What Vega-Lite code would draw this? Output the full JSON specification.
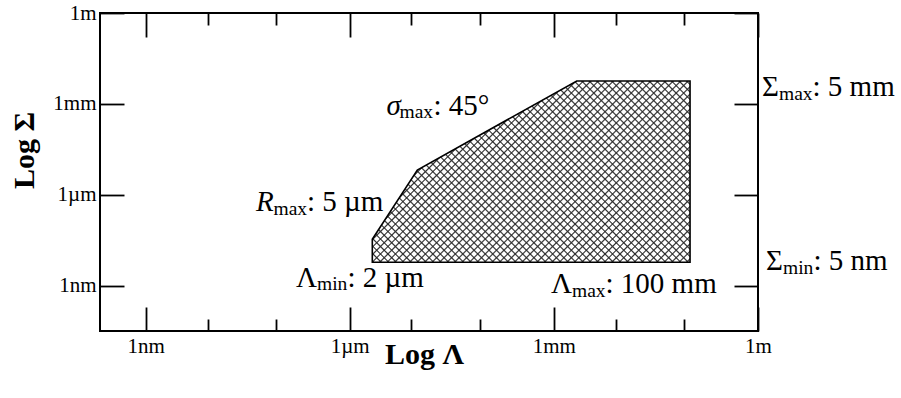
{
"$schema": "https://vega.github.io/schema/vega-lite/v6.json",
"width": 658, "height": 318,
"autosize": {"type": "none"},
"padding": {"left": 100, "top": 13, "right": 143, "bottom": 67},
"background": "white",
"config": {
 "view": {"stroke": "black", "strokeWidth": 2},
 "font": "Liberation Serif",
 "axis": {"domain": false, "grid": false, "tickColor": "black", "tickWidth": 1.8, "labelFont": "Liberation Serif", "labelFontSize": 21, "labelColor": "black", "labelFlush": false, "labelOverlap": false, "titleFont": "Liberation Serif", "titleFontSize": 30, "titleFontWeight": "bold", "titleColor": "black"}
},
"params": [{"name": "hs", "value": [
{"offset":0,"color":"#0000"},{"offset":0.003,"color":"#333"},{"offset":0.006,"color":"#0000"},
{"offset":0.015,"color":"#0000"},{"offset":0.018,"color":"#333"},{"offset":0.021,"color":"#0000"},
{"offset":0.03,"color":"#0000"},{"offset":0.033,"color":"#333"},{"offset":0.036,"color":"#0000"},
{"offset":0.045,"color":"#0000"},{"offset":0.048,"color":"#333"},{"offset":0.051,"color":"#0000"},
{"offset":0.06,"color":"#0000"},{"offset":0.063,"color":"#333"},{"offset":0.066,"color":"#0000"},
{"offset":0.075,"color":"#0000"},{"offset":0.078,"color":"#333"},{"offset":0.081,"color":"#0000"},
{"offset":0.09,"color":"#0000"},{"offset":0.093,"color":"#333"},{"offset":0.096,"color":"#0000"},
{"offset":0.105,"color":"#0000"},{"offset":0.108,"color":"#333"},{"offset":0.111,"color":"#0000"},
{"offset":0.12,"color":"#0000"},{"offset":0.123,"color":"#333"},{"offset":0.126,"color":"#0000"},
{"offset":0.135,"color":"#0000"},{"offset":0.138,"color":"#333"},{"offset":0.141,"color":"#0000"},
{"offset":0.15,"color":"#0000"},{"offset":0.153,"color":"#333"},{"offset":0.156,"color":"#0000"},
{"offset":0.165,"color":"#0000"},{"offset":0.168,"color":"#333"},{"offset":0.171,"color":"#0000"},
{"offset":0.18,"color":"#0000"},{"offset":0.183,"color":"#333"},{"offset":0.186,"color":"#0000"},
{"offset":0.195,"color":"#0000"},{"offset":0.198,"color":"#333"},{"offset":0.201,"color":"#0000"},
{"offset":0.21,"color":"#0000"},{"offset":0.213,"color":"#333"},{"offset":0.216,"color":"#0000"},
{"offset":0.225,"color":"#0000"},{"offset":0.228,"color":"#333"},{"offset":0.231,"color":"#0000"},
{"offset":0.24,"color":"#0000"},{"offset":0.243,"color":"#333"},{"offset":0.246,"color":"#0000"},
{"offset":0.255,"color":"#0000"},{"offset":0.258,"color":"#333"},{"offset":0.261,"color":"#0000"},
{"offset":0.27,"color":"#0000"},{"offset":0.273,"color":"#333"},{"offset":0.276,"color":"#0000"},
{"offset":0.285,"color":"#0000"},{"offset":0.288,"color":"#333"},{"offset":0.291,"color":"#0000"},
{"offset":0.3,"color":"#0000"},{"offset":0.303,"color":"#333"},{"offset":0.306,"color":"#0000"},
{"offset":0.315,"color":"#0000"},{"offset":0.318,"color":"#333"},{"offset":0.321,"color":"#0000"},
{"offset":0.33,"color":"#0000"},{"offset":0.333,"color":"#333"},{"offset":0.336,"color":"#0000"},
{"offset":0.345,"color":"#0000"},{"offset":0.348,"color":"#333"},{"offset":0.351,"color":"#0000"},
{"offset":0.36,"color":"#0000"},{"offset":0.363,"color":"#333"},{"offset":0.366,"color":"#0000"},
{"offset":0.375,"color":"#0000"},{"offset":0.378,"color":"#333"},{"offset":0.381,"color":"#0000"},
{"offset":0.39,"color":"#0000"},{"offset":0.393,"color":"#333"},{"offset":0.396,"color":"#0000"},
{"offset":0.405,"color":"#0000"},{"offset":0.408,"color":"#333"},{"offset":0.411,"color":"#0000"},
{"offset":0.42,"color":"#0000"},{"offset":0.423,"color":"#333"},{"offset":0.426,"color":"#0000"},
{"offset":0.435,"color":"#0000"},{"offset":0.438,"color":"#333"},{"offset":0.441,"color":"#0000"},
{"offset":0.45,"color":"#0000"},{"offset":0.453,"color":"#333"},{"offset":0.456,"color":"#0000"},
{"offset":0.465,"color":"#0000"},{"offset":0.468,"color":"#333"},{"offset":0.471,"color":"#0000"},
{"offset":0.48,"color":"#0000"},{"offset":0.483,"color":"#333"},{"offset":0.486,"color":"#0000"},
{"offset":0.495,"color":"#0000"},{"offset":0.498,"color":"#333"},{"offset":0.501,"color":"#0000"},
{"offset":0.51,"color":"#0000"},{"offset":0.513,"color":"#333"},{"offset":0.516,"color":"#0000"},
{"offset":0.525,"color":"#0000"},{"offset":0.528,"color":"#333"},{"offset":0.531,"color":"#0000"},
{"offset":0.54,"color":"#0000"},{"offset":0.543,"color":"#333"},{"offset":0.546,"color":"#0000"},
{"offset":0.555,"color":"#0000"},{"offset":0.558,"color":"#333"},{"offset":0.561,"color":"#0000"},
{"offset":0.57,"color":"#0000"},{"offset":0.573,"color":"#333"},{"offset":0.576,"color":"#0000"},
{"offset":0.585,"color":"#0000"},{"offset":0.588,"color":"#333"},{"offset":0.591,"color":"#0000"},
{"offset":0.6,"color":"#0000"},{"offset":0.603,"color":"#333"},{"offset":0.606,"color":"#0000"},
{"offset":0.615,"color":"#0000"},{"offset":0.618,"color":"#333"},{"offset":0.621,"color":"#0000"},
{"offset":0.63,"color":"#0000"},{"offset":0.633,"color":"#333"},{"offset":0.636,"color":"#0000"},
{"offset":0.645,"color":"#0000"},{"offset":0.648,"color":"#333"},{"offset":0.651,"color":"#0000"},
{"offset":0.66,"color":"#0000"},{"offset":0.663,"color":"#333"},{"offset":0.666,"color":"#0000"},
{"offset":0.675,"color":"#0000"},{"offset":0.678,"color":"#333"},{"offset":0.681,"color":"#0000"},
{"offset":0.69,"color":"#0000"},{"offset":0.693,"color":"#333"},{"offset":0.696,"color":"#0000"},
{"offset":0.705,"color":"#0000"},{"offset":0.708,"color":"#333"},{"offset":0.711,"color":"#0000"},
{"offset":0.72,"color":"#0000"},{"offset":0.723,"color":"#333"},{"offset":0.726,"color":"#0000"},
{"offset":0.735,"color":"#0000"},{"offset":0.738,"color":"#333"},{"offset":0.741,"color":"#0000"},
{"offset":0.75,"color":"#0000"},{"offset":0.753,"color":"#333"},{"offset":0.756,"color":"#0000"},
{"offset":0.765,"color":"#0000"},{"offset":0.768,"color":"#333"},{"offset":0.771,"color":"#0000"},
{"offset":0.78,"color":"#0000"},{"offset":0.783,"color":"#333"},{"offset":0.786,"color":"#0000"},
{"offset":0.795,"color":"#0000"},{"offset":0.798,"color":"#333"},{"offset":0.801,"color":"#0000"},
{"offset":0.81,"color":"#0000"},{"offset":0.813,"color":"#333"},{"offset":0.816,"color":"#0000"},
{"offset":0.825,"color":"#0000"},{"offset":0.828,"color":"#333"},{"offset":0.831,"color":"#0000"},
{"offset":0.84,"color":"#0000"},{"offset":0.843,"color":"#333"},{"offset":0.846,"color":"#0000"},
{"offset":0.855,"color":"#0000"},{"offset":0.858,"color":"#333"},{"offset":0.861,"color":"#0000"},
{"offset":0.87,"color":"#0000"},{"offset":0.873,"color":"#333"},{"offset":0.876,"color":"#0000"},
{"offset":0.885,"color":"#0000"},{"offset":0.888,"color":"#333"},{"offset":0.891,"color":"#0000"},
{"offset":0.9,"color":"#0000"},{"offset":0.903,"color":"#333"},{"offset":0.906,"color":"#0000"},
{"offset":0.915,"color":"#0000"},{"offset":0.918,"color":"#333"},{"offset":0.921,"color":"#0000"},
{"offset":0.93,"color":"#0000"},{"offset":0.933,"color":"#333"},{"offset":0.936,"color":"#0000"},
{"offset":0.945,"color":"#0000"},{"offset":0.948,"color":"#333"},{"offset":0.951,"color":"#0000"},
{"offset":0.96,"color":"#0000"},{"offset":0.963,"color":"#333"},{"offset":0.966,"color":"#0000"},
{"offset":0.975,"color":"#0000"},{"offset":0.978,"color":"#333"},{"offset":0.981,"color":"#0000"},
{"offset":0.99,"color":"#0000"},{"offset":0.993,"color":"#333"},{"offset":0.996,"color":"#0000"}
]}],
"datasets": {
 "poly": [
  {"x": 2.147e-6, "top": 3.46e-8, "bot": 6.03e-9},
  {"x": 9.845e-6, "top": 6.66e-6, "bot": 6.03e-9},
  {"x": 2.168e-3, "top": 5.73e-3, "bot": 6.03e-9},
  {"x": 0.1003, "top": 5.73e-3, "bot": 6.03e-9}
 ],
 "lab": [
  {"t": "σ", "k": "i", "x": 3.473e-6, "y": 4.335e-4},
  {"t": "max", "k": "s", "x": 5.391e-6, "y": 3.452e-4},
  {"t": ": 45°", "k": "n", "x": 1.703e-5, "y": 4.335e-4},
  {"t": "R", "k": "i", "x": 4.194e-8, "y": 2.964e-7},
  {"t": "max", "k": "s", "x": 7.582e-8, "y": 2.187e-7},
  {"t": ": 5 µm", "k": "n", "x": 2.356e-7, "y": 2.964e-7},
  {"t": "Λ", "k": "n", "x": 1.624e-7, "y": 9.46e-10},
  {"t": "min", "k": "s", "x": 3.305e-7, "y": 7.364e-10},
  {"t": ": 2 µm", "k": "n", "x": 9.277e-7, "y": 9.46e-10},
  {"t": "Λ", "k": "n", "x": 9.085e-4, "y": 5.731e-10},
  {"t": "max", "k": "s", "x": 1.849e-3, "y": 4.328e-10},
  {"t": ": 100 mm", "k": "n", "x": 5.744e-3, "y": 5.731e-10},
  {"t": "Σ", "k": "n", "x": 1.147, "y": 1.834e-3},
  {"t": "max", "k": "s", "x": 2.038, "y": 1.353e-3},
  {"t": ": 5 mm", "k": "n", "x": 6.333, "y": 1.834e-3},
  {"t": "Σ", "k": "n", "x": 1.313, "y": 3.361e-9},
  {"t": "min", "k": "s", "x": 2.333, "y": 2.481e-9},
  {"t": ": 5 nm", "k": "n", "x": 6.551, "y": 3.361e-9}
 ]
},
"layer": [
 {
  "data": {"name": "poly"},
  "mark": {"type": "area", "fill": {"expr": "{gradient:'linear',x1:0,y1:1,x2:1.1848,y2:0.3238,stops:hs}"}, "strokeWidth": 0},
  "encoding": {
   "x": {"field": "x", "type": "quantitative", "scale": {"type": "log", "domain": [2.138e-10, 1], "nice": false},
    "axis": {"orient": "bottom", "values": [1e-9, 1e-6, 1e-3, 1], "tickSize": -24, "labelPadding": 28,
     "labelExpr": "datum.value > 0.5 ? '1m' : datum.value > 5e-4 ? '1mm' : datum.value > 5e-7 ? '1µm' : '1nm'",
     "title": "Log Λ", "titleX": 324, "titleY": 32, "titleBaseline": "alphabetic", "titleAlign": "center"}},
   "y": {"field": "top", "type": "quantitative", "scale": {"type": "log", "domain": [3.27e-11, 1], "nice": false},
    "axis": {"orient": "left", "values": [1e-9, 1e-6, 1e-3, 1], "tickSize": -24, "labelPadding": 28,
     "labelExpr": "datum.value > 0.5 ? '1m' : datum.value > 5e-4 ? '1mm' : datum.value > 5e-7 ? '1µm' : '1nm'",
     "title": "Log Σ", "titleX": -76, "titleY": 137, "titleAngle": -90, "titleBaseline": "middle", "titleAlign": "center"}},
   "y2": {"field": "bot"}
  }
 },
 {
  "data": {"name": "poly"},
  "mark": {"type": "area", "fill": {"expr": "{gradient:'linear',x1:0,y1:0,x2:1.1848,y2:0.6762,stops:hs}"}, "stroke": "black", "strokeWidth": 1.6},
  "encoding": {
   "x": {"field": "x", "type": "quantitative", "scale": {"type": "log", "domain": [2.138e-10, 1], "nice": false},
    "axis": {"orient": "top", "values": [1e-9, 1e-6, 1e-3, 1], "tickSize": -24, "labels": false, "title": null}},
   "y": {"field": "top", "type": "quantitative", "scale": {"type": "log", "domain": [3.27e-11, 1], "nice": false},
    "axis": {"orient": "right", "values": [1e-9, 1e-6, 1e-3, 1], "tickSize": -24, "labels": false, "title": null}},
   "y2": {"field": "bot"}
  }
 },
 {
  "data": {"name": "lab"},
  "transform": [{"filter": "datum.k == 'n'"}],
  "mark": {"type": "text", "align": "left", "baseline": "alphabetic", "font": "Liberation Serif", "fontSize": 29, "color": "black"},
  "encoding": {
   "x": {"field": "x", "type": "quantitative", "scale": {"type": "log", "domain": [2.138e-10, 1], "nice": false},
    "axis": {"orient": "bottom", "values": [8.18e-9, 8.25e-8, 8.04e-6, 8.11e-5, 8.2e-3, 0.0827], "tickSize": -12, "labels": false, "title": null}},
   "y": {"field": "y", "type": "quantitative", "scale": {"type": "log", "domain": [3.27e-11, 1], "nice": false}, "axis": null},
   "text": {"field": "t"}
  }
 },
 {
  "data": {"name": "lab"},
  "transform": [{"filter": "datum.k == 'i'"}],
  "mark": {"type": "text", "align": "left", "baseline": "alphabetic", "font": "Liberation Serif", "fontSize": 29, "fontStyle": "italic", "color": "black"},
  "encoding": {
   "x": {"field": "x", "type": "quantitative", "scale": {"type": "log", "domain": [2.138e-10, 1], "nice": false},
    "axis": {"orient": "top", "values": [8.18e-9, 8.25e-8, 8.04e-6, 8.11e-5, 8.2e-3, 0.0827], "tickSize": -12, "labels": false, "title": null}},
   "y": {"field": "y", "type": "quantitative", "scale": {"type": "log", "domain": [3.27e-11, 1], "nice": false}, "axis": null},
   "text": {"field": "t"}
  }
 },
 {
  "data": {"name": "lab"},
  "transform": [{"filter": "datum.k == 's'"}],
  "mark": {"type": "text", "align": "left", "baseline": "alphabetic", "font": "Liberation Serif", "fontSize": 19.5, "color": "black"},
  "encoding": {
   "x": {"field": "x", "type": "quantitative", "scale": {"type": "log", "domain": [2.138e-10, 1], "nice": false}, "axis": null},
   "y": {"field": "y", "type": "quantitative", "scale": {"type": "log", "domain": [3.27e-11, 1], "nice": false}, "axis": null},
   "text": {"field": "t"}
  }
 }
],
"resolve": {"axis": {"x": "independent", "y": "independent"}}
}
